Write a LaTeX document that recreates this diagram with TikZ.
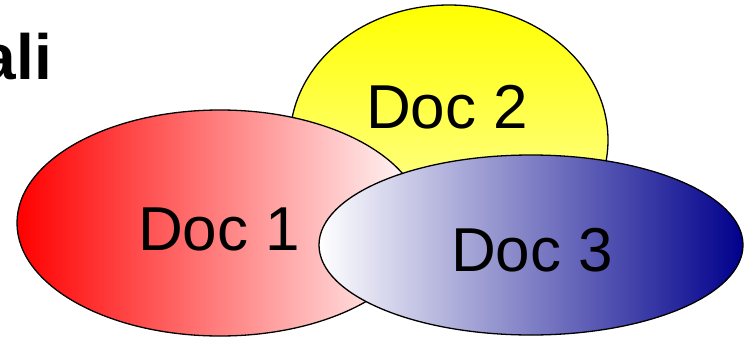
\documentclass[tikz,border=0pt]{standalone}
\usepackage{fontspec}
\setmainfont{Liberation Sans}
\usetikzlibrary{shapes.geometric}
\definecolor{navyblue}{RGB}{0,0,140}
\definecolor{paleyellow}{RGB}{255,255,190}
\tikzset{
  docell/.style={ellipse, draw=black, line width=1.3pt, inner sep=0pt},
  doclabel/.style={font=\fontsize{62}{74}\selectfont, inner sep=0pt, anchor=base},
}
\begin{document}
\begin{tikzpicture}[x=1pt,y=1pt]
\useasboundingbox (0,0) rectangle (745,-338);
\node[anchor=base east, inner sep=0pt, font=\bfseries\fontsize{64}{76}\selectfont] (title) at (52,-79) {ali};
\node[docell, minimum width=318pt, minimum height=270pt, top color=yellow, bottom color=paleyellow] (d2) at (449,-140) {};
\node[docell, minimum width=406pt, minimum height=226pt, left color=red, right color=white] (d1) at (220,-223) {};
\node[docell, minimum width=424pt, minimum height=180pt, left color=white, right color=navyblue] (d3) at (531,-245) {};
\node[doclabel] (t1) at (219,-250) {Doc 1};
\node[doclabel] (t2) at (447,-128) {Doc 2};
\node[doclabel] (t3) at (532,-271) {Doc 3};
\end{tikzpicture}
\end{document}
